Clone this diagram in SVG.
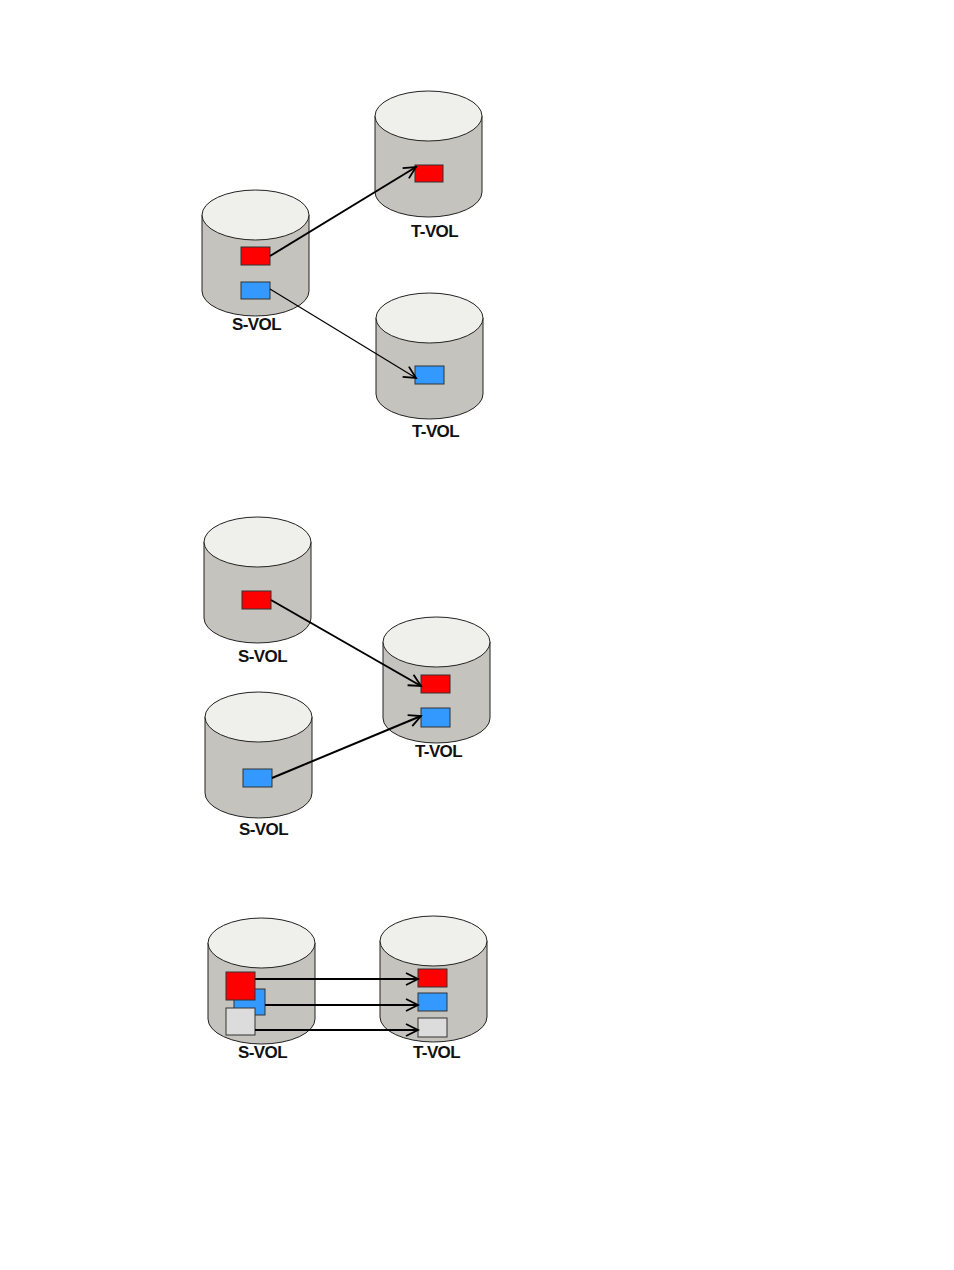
<svg xmlns="http://www.w3.org/2000/svg" width="954" height="1270" viewBox="0 0 954 1270">
<style>
.body{fill:#c4c3bd;stroke:#222;stroke-width:1}
.top{fill:#efefeb;stroke:#222;stroke-width:1}
.lbl{font-family:"Liberation Sans",Arial,sans-serif;font-weight:bold;font-size:17px;letter-spacing:-0.6px;fill:#111;text-anchor:middle}
.r{fill:#ff0000;stroke:#333;stroke-width:1}
.b{fill:#3399ff;stroke:#333;stroke-width:1}
.g{fill:#dcdcdc;stroke:#333;stroke-width:1}
.c{stroke:#000;stroke-width:2;fill:none;marker-end:url(#ah)}
.t{stroke:#000;stroke-width:1.2;fill:none;marker-end:url(#ah)}
</style>
<defs>
<marker id="ah" markerUnits="userSpaceOnUse" markerWidth="16" markerHeight="16" refX="13" refY="7" orient="auto" overflow="visible">
<path d="M1,1 L13,7 L1,13" fill="none" stroke="#000" stroke-width="1.8"/>
</marker>
<g id="cyl">
<path class="body" d="M0,25 L0,101 A53.5,25 0 0 0 107,101 L107,25 Z"/>
<ellipse class="top" cx="53.5" cy="25" rx="53.5" ry="25"/>
</g>
</defs>
<rect width="954" height="1270" fill="#fff"/>

<!-- Diagram 1 -->
<g id="d1-tvol1"><use href="#cyl" x="375" y="91"/><rect class="r" x="415" y="165" width="28" height="17"/><text class="lbl" x="434.5" y="237">T-VOL</text></g>
<g id="d1-svol"><use href="#cyl" x="202" y="190"/><rect class="r" x="241" y="247" width="29" height="18"/><rect class="b" x="241" y="282" width="29" height="17"/><text class="lbl" x="256.5" y="330">S-VOL</text></g>
<g id="d1-tvol2"><use href="#cyl" x="376" y="293"/><rect class="b" x="415" y="366" width="29" height="18"/><text class="lbl" x="435.5" y="437">T-VOL</text></g>

<!-- Diagram 2 -->
<g id="d2-svol1"><use href="#cyl" x="204" y="517"/><rect class="r" x="242" y="591" width="29" height="18"/><text class="lbl" x="262.5" y="662">S-VOL</text></g>
<g id="d2-svol2"><use href="#cyl" x="205" y="692"/><rect class="b" x="243" y="769" width="29" height="18"/><text class="lbl" x="263.5" y="835">S-VOL</text></g>
<g id="d2-tvol"><use href="#cyl" x="383" y="617"/><rect class="r" x="421" y="675" width="29" height="18"/><rect class="b" x="421" y="708" width="29" height="19"/><text class="lbl" x="438.5" y="757">T-VOL</text></g>

<!-- Diagram 3 -->
<g id="d3-svol"><use href="#cyl" x="208" y="918"/><rect class="b" x="234" y="989" width="31" height="26"/><rect class="r" x="226" y="972" width="29" height="28"/><rect class="g" x="226" y="1008" width="29" height="27"/><text class="lbl" x="262.5" y="1058">S-VOL</text></g>
<g id="d3-tvol"><use href="#cyl" x="380" y="916"/><rect class="r" x="418" y="969" width="29" height="18"/><rect class="b" x="418" y="993" width="29" height="18"/><rect class="g" x="418" y="1018" width="29" height="19"/><text class="lbl" x="436.5" y="1058">T-VOL</text></g>

<g id="connectors">
<line class="c" x1="270" y1="256" x2="416" y2="167"/>
<line class="t" x1="270" y1="289" x2="416" y2="378"/>
<line class="c" x1="271" y1="600" x2="421" y2="686"/>
<line class="c" x1="272" y1="778" x2="421" y2="716"/>
<line class="c" x1="255" y1="979" x2="418" y2="979"/>
<line class="c" x1="265" y1="1005" x2="418" y2="1005"/>
<line class="c" x1="255" y1="1030" x2="418" y2="1030"/>
</g>
</svg>
